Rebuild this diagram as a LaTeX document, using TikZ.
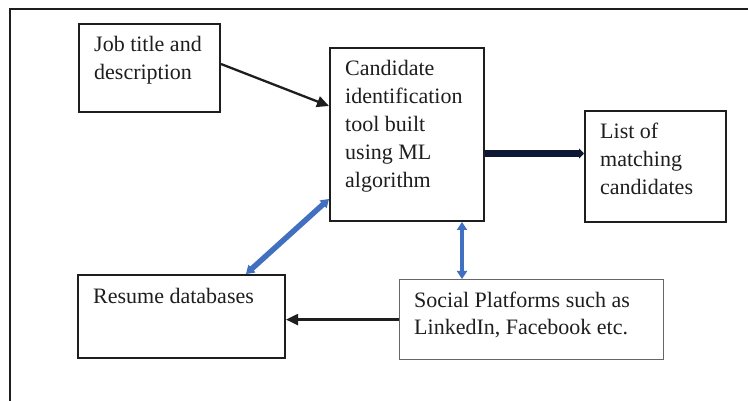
\documentclass[tikz,border=0pt]{standalone}
\usepackage{fontspec}
\setmainfont{Liberation Serif}
\usetikzlibrary{arrows.meta}
% left-aligned lines whose reference point is the first baseline
\newcommand\firstbaselines[1]{\vtop{\baselineskip=28pt\lineskiplimit=-100pt\halign{##\hfil\cr#1\crcr}}}
\definecolor{inkgray}{HTML}{1E1E1E}
\definecolor{officeblue}{HTML}{4170C0}
\definecolor{navyink}{HTML}{0E1733}
\begin{document}
\begin{tikzpicture}[x=1pt,y=-1pt,
  box/.style={draw=inkgray,line width=2pt,rectangle,inner sep=0pt,anchor=north west},
  softbox/.style={draw=black!60,line width=1.2pt,rectangle,inner sep=0pt,anchor=north west},
  txt/.style={anchor=base west,inner sep=0pt,font=\fontsize{22}{28}\selectfont,text=inkgray},
  plainarrow/.style={line width=2.3pt,draw=inkgray,-{Triangle[length=12pt,width=11pt]}},
  heavyarrow/.style={line width=7pt,draw=navyink,-{Triangle[length=5pt,width=10pt]}},
  bluearrow/.style={line width=#1,draw=officeblue,{Triangle[length=8pt,width=10pt]}-{Triangle[length=8pt,width=10pt]}}]
\useasboundingbox (0,0) rectangle (748,401);
\fill[white] (0,0) rectangle (748,401);

% open frame: top and left edges only
\draw[line width=2pt,draw=inkgray] (10,401) -- (10,9) -- (748,9);

% boxes
\node[box,minimum width=141pt,minimum height=88pt] (job) at (78,23) {};
\node[box,minimum width=154pt,minimum height=173pt] (cand) at (329,47) {};
\node[box,minimum width=141pt,minimum height=111pt] (list) at (584,110) {};
\node[box,minimum width=207pt,minimum height=83pt] (resume) at (77,274) {};
\node[softbox,minimum width=264pt,minimum height=80pt] (social) at (399,279) {};

% texts
\node[txt] (jobtext) at (94,52) {\firstbaselines{Job title and\cr description}};
\node[txt] (candtext) at (345,76) {\firstbaselines{Candidate\cr identification\cr tool built\cr using ML\cr algorithm}};
\node[txt] (listtext) at (600,139) {\firstbaselines{List of\cr matching\cr candidates}};
\node[txt] (resumetext) at (93,304) {Resume databases};
\node[txt] (socialtext) at (414,307) {\firstbaselines{Social Platforms such as\cr LinkedIn, Facebook etc.}};

% connectors
\draw[plainarrow] ([yshift=4pt]job.east) -- ([yshift=28.5pt]cand.west);
\draw[heavyarrow] ([yshift=-19pt]cand.east) -- ([yshift=-19pt]cand.east -| list.west);
\draw[bluearrow=5.5pt] ([yshift=-64.5pt]cand.west) -- ([xshift=64.5pt]resume.north);
\draw[bluearrow=4pt] ([xshift=55pt]cand.south) -- ([xshift=55pt]cand.south |- social.north);
\draw[plainarrow] (social.west) -- (social.west -| resume.east);
\end{tikzpicture}
\end{document}
